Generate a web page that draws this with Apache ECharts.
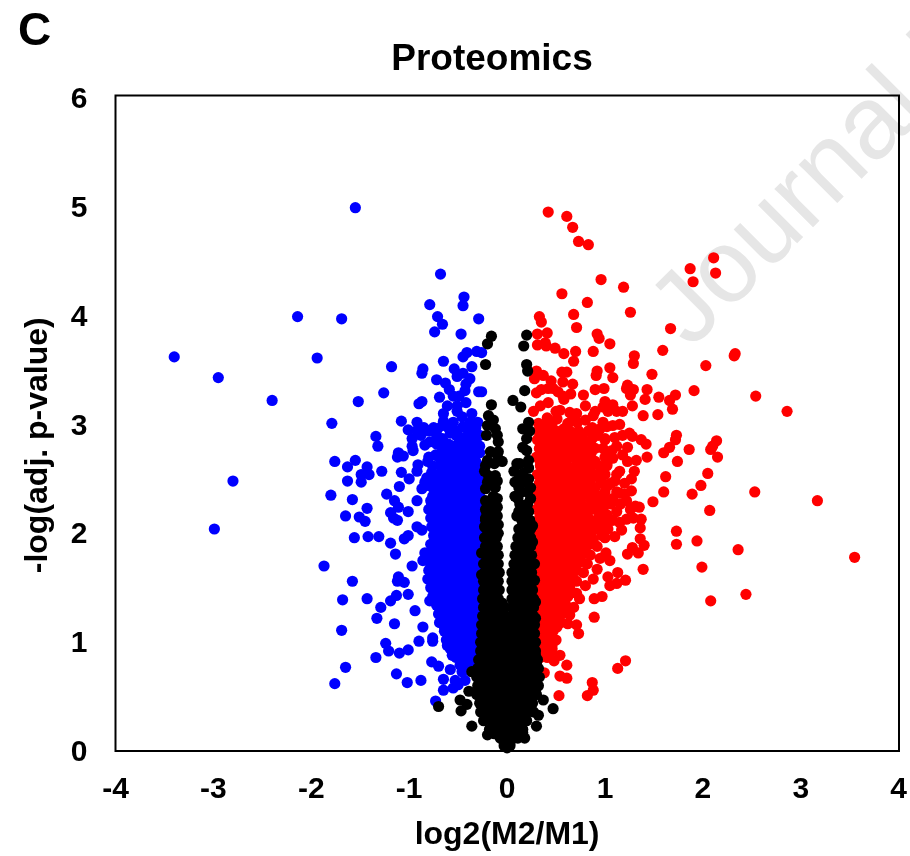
<!DOCTYPE html>
<html><head><meta charset="utf-8">
<style>html,body{margin:0;padding:0;background:#fff}#c{width:910px;height:856px}</style>
<script src="https://cdn.jsdelivr.net/npm/echarts@6/dist/echarts.min.js"></script>
</head><body><div id="c"></div>
<script>
var xTicks=[-4,-3,-2,-1,0,1,2,3,4];
var yTicks=[0,1,2,3,4,5,6];
var titleText="Proteomics", panelLetter="C", xName="log2(M2/M1)", yName="-log(adj. p-value)";

var blueEdge=[[-1.55,4.97],[-2.14,3.97],[-1.69,3.95],[-3.40,3.60],[-1.94,3.59],[-1.18,3.51],[-2.95,3.41],[-1.26,3.27],[-2.40,3.20],[-1.52,3.19],[-1.79,2.99],[-1.08,3.01],[-1.01,2.93],[-1.34,2.87],[-1.32,2.78],[-1.11,2.72],[-1.06,2.69],[-1.12,2.68],[-1.76,2.64],[-1.55,2.65],[-1.63,2.59],[-1.43,2.59],[-1.49,2.52],[-1.41,2.52],[-1.28,2.55],[-1.08,2.54],[-2.80,2.46],[-1.63,2.46],[-1.49,2.45],[-1.10,2.41],[-1.00,2.48],
[-1.80,2.33],[-1.58,2.29],[-1.23,2.34],[-1.15,2.28],[-1.43,2.21],[-1.11,2.22],[-1.01,2.18],[-1.19,2.17],[-1.65,2.14],[-1.51,2.13],[-1.45,2.09],[-1.16,2.12],[-1.12,2.10],[-2.99,2.02],[-1.56,1.94],[-1.42,1.95],[-1.31,1.95],[-1.19,1.89],[-1.05,1.93],[-1.01,1.96],[-1.14,1.79],[-1.87,1.68],[-0.97,1.68],[-1.11,1.58],[-1.12,1.54],[-1.05,1.53],[-1.58,1.54],[-1.68,1.37],[-1.43,1.38],[-1.13,1.41],[-1.01,1.42],[-1.19,1.36],[-1.29,1.30],[-1.33,1.20],[-1.15,1.15],[-1.69,1.09],[-1.24,0.97],[-1.21,0.90],[-1.10,0.88],[-1.01,0.91],[-1.34,0.84],[-1.65,0.75],[-1.13,0.69],[-1.02,0.61],[-1.76,0.60],
[-0.68,4.36],[-0.44,4.15],[-0.45,4.07],[-0.79,4.08],[-0.71,3.97],[-0.66,3.90],[-0.29,3.95],[-0.74,3.83],[-0.47,3.81],[-0.41,3.64],[-0.45,3.60],[-0.31,3.65],[-0.26,3.64],[-0.65,3.56],[-0.36,3.51],[-0.54,3.49],[-0.86,3.49],[-0.87,3.45],[-0.45,3.45],[-0.51,3.42],[-0.38,3.40],[-0.72,3.39],[-0.63,3.36],[-0.42,3.35],[-0.59,3.30],[-0.43,3.29],[-0.29,3.28],[-0.26,3.28],[-0.55,3.24],[-0.49,3.24],[-0.69,3.23],[-0.87,3.19],[-0.90,3.17],[-0.61,3.15],[-0.51,3.15],[-0.51,3.10],[-0.65,3.08],[-0.36,3.08],[-0.92,3.00],[-0.65,3.01],[-0.46,3.05],[-0.55,3.00],[-0.30,3.00],[-0.38,3.00],[-0.92,2.92],[-0.80,2.92],[-0.66,2.97],[-0.71,2.94],[-0.51,2.92],[-0.38,2.91],[-0.45,2.96],[-0.97,2.85],[-0.97,2.78],[-0.79,2.82],[-0.84,2.79],[-0.66,2.85],[-0.66,2.78],[-0.32,2.83],[-0.96,2.74],[-0.73,2.70],[-0.81,2.64],[-0.91,2.61],[-0.77,2.54],[-0.92,2.55],[-0.87,2.39],[-0.82,2.42],[-0.92,2.28],[-0.71,2.46],
[-0.92,2.04],[-0.87,2.01],[-0.84,1.80],[-0.86,1.73],[-0.79,1.36],[-0.94,1.27],[-0.86,1.12],[-0.90,0.99],[-0.76,1.02],[-0.76,0.99],[-0.77,0.80],[-0.70,0.76],[-0.58,0.73],[-0.88,0.63],[-0.65,0.64],[-0.65,0.54],[-0.55,0.56],[-0.50,0.59],[-0.53,0.63],[-0.73,0.44],[-0.48,0.77],[-0.46,0.71],[-0.43,0.63],[-0.61,0.95],[-0.56,0.86],[-0.50,0.86],
[-0.58,2.90],[-0.44,2.86],[-0.56,2.78],[-0.50,2.80],[-0.40,2.78],[-0.34,2.72],[-0.60,2.72],[-0.42,3.18],[-0.37,2.96],
[-0.85,2.95],[-0.75,2.95],[-0.60,2.95],[-0.42,2.95],[-0.32,2.95],[-0.88,2.88],[-0.72,2.88],[-0.52,2.88],[-0.36,2.88],[-0.28,2.88],[-0.72,2.80],[-0.60,2.80],[-0.48,2.82],[-0.36,2.80],[-0.28,2.78],[-0.66,2.74],[-0.54,2.73],[-0.46,2.74],[-0.38,2.73],[-0.28,2.72],[-0.80,2.68],[-0.70,2.68],[-0.76,2.60],[-0.78,2.50],[-0.82,2.49],[-0.84,2.45]];

var blueRowY=[2.68,2.60,2.52,2.44,2.36,2.28,2.20,2.12,2.04,1.96,1.88,1.80,1.72,1.64,1.56,1.48,1.40,1.32,1.24,1.16,1.08,1.00,0.92,0.84,0.76,
 2.64,2.56,2.48,2.40,2.32,2.24,2.16,2.08,2.00,1.92,1.84,1.76,1.68,1.60,1.52,1.44,1.36,1.28,1.20,1.12,1.04,0.96,0.88,0.80,0.72];
var blueRowX=[
[-0.62,-0.50,-0.43,-0.35],
[-0.68,-0.58,-0.52,-0.44,-0.36,-0.28],
[-0.70,-0.62,-0.54,-0.46,-0.38,-0.30],
[-0.78,-0.67,-0.59,-0.51,-0.43,-0.35,-0.27],
[-0.74,-0.66,-0.56,-0.48,-0.40,-0.32],
[-0.78,-0.70,-0.62,-0.54,-0.46,-0.38,-0.30],
[-0.80,-0.72,-0.64,-0.56,-0.48,-0.40,-0.32],
[-0.78,-0.70,-0.62,-0.54,-0.46,-0.38,-0.30],
[-0.77,-0.72,-0.64,-0.56,-0.48,-0.40,-0.32],
[-0.75,-0.68,-0.60,-0.52,-0.44,-0.36,-0.28],
[-0.78,-0.72,-0.64,-0.56,-0.48,-0.40,-0.32],
[-0.80,-0.70,-0.62,-0.54,-0.46,-0.38,-0.30],
[-0.76,-0.68,-0.60,-0.52,-0.44,-0.36,-0.28],
[-0.80,-0.72,-0.64,-0.56,-0.48,-0.40,-0.32],
[-0.81,-0.74,-0.66,-0.58,-0.50,-0.42,-0.34],
[-0.78,-0.70,-0.62,-0.54,-0.46,-0.38,-0.30],
[-0.76,-0.68,-0.60,-0.52,-0.44,-0.36,-0.28],
[-0.72,-0.64,-0.56,-0.48,-0.40,-0.32],
[-0.70,-0.62,-0.54,-0.46,-0.38,-0.30],
[-0.69,-0.60,-0.52,-0.44,-0.36,-0.28],
[-0.64,-0.56,-0.48,-0.40,-0.32],
[-0.62,-0.52,-0.44,-0.36,-0.30],
[-0.58,-0.49,-0.42,-0.34],
[-0.52,-0.44,-0.36,-0.30],
[-0.42,-0.35,-0.29],
[-0.64,-0.56,-0.48,-0.40,-0.32],
[-0.66,-0.58,-0.50,-0.42,-0.34,-0.26],
[-0.74,-0.66,-0.58,-0.50,-0.42,-0.34,-0.28],
[-0.76,-0.70,-0.62,-0.54,-0.46,-0.38,-0.30],
[-0.76,-0.68,-0.60,-0.52,-0.44,-0.36,-0.28],
[-0.77,-0.68,-0.60,-0.52,-0.44,-0.36,-0.28],
[-0.76,-0.66,-0.58,-0.50,-0.42,-0.34,-0.27],
[-0.74,-0.66,-0.58,-0.50,-0.42,-0.34,-0.28],
[-0.72,-0.64,-0.56,-0.48,-0.40,-0.32,-0.26],
[-0.74,-0.66,-0.58,-0.50,-0.42,-0.34,-0.27],
[-0.76,-0.66,-0.58,-0.50,-0.42,-0.34,-0.27],
[-0.78,-0.72,-0.64,-0.56,-0.48,-0.40,-0.32],
[-0.78,-0.70,-0.62,-0.54,-0.46,-0.38,-0.30],
[-0.77,-0.68,-0.60,-0.52,-0.44,-0.36,-0.28],
[-0.74,-0.66,-0.58,-0.50,-0.42,-0.34,-0.27],
[-0.72,-0.64,-0.56,-0.48,-0.40,-0.32,-0.26],
[-0.70,-0.60,-0.52,-0.44,-0.36,-0.28],
[-0.68,-0.60,-0.52,-0.44,-0.36,-0.28],
[-0.66,-0.58,-0.50,-0.42,-0.34,-0.27],
[-0.64,-0.56,-0.48,-0.40,-0.32,-0.26],
[-0.60,-0.52,-0.44,-0.36,-0.28],
[-0.54,-0.46,-0.38,-0.30],
[-0.50,-0.42,-0.34,-0.27],
[-0.46,-0.38,-0.30],
[-0.38,-0.31]];

var redEdge=[[0.42,4.93],[0.61,4.89],[0.67,4.79],[0.73,4.66],[0.83,4.63],[2.11,4.51],[1.87,4.41],[2.13,4.37],[1.90,4.29],[0.96,4.31],[1.19,4.24],[0.56,4.18],[0.82,4.10],[1.26,4.01],[0.68,3.99],[0.33,3.97],[0.35,3.92],[0.71,3.87],[1.67,3.86],[0.31,3.81],[0.41,3.82],[0.92,3.81],[0.94,3.77],[0.31,3.71],[0.39,3.73],[0.40,3.70],[0.49,3.68],[1.05,3.72],[0.58,3.63],[0.70,3.65],[0.88,3.65],[1.59,3.66],[1.30,3.61],[1.29,3.54],[0.68,3.56],[2.03,3.52],[1.05,3.50],[0.92,3.47],[0.91,3.43],[1.48,3.44],[0.30,3.47],[0.28,3.40],[0.37,3.43],[0.56,3.46],[0.61,3.46],[1.08,3.41],[0.45,3.38],[0.57,3.37],[0.67,3.35],[1.23,3.34],[1.22,3.31],[1.29,3.30],[1.26,3.25],[1.43,3.30],[0.99,3.31],[0.90,3.30],[0.35,3.30],[0.30,3.27],[0.42,3.31],[0.47,3.31],[0.52,3.28],[0.57,3.24],[0.65,3.26],[0.58,3.21],[0.78,3.25],[1.91,3.29],[1.41,3.21],[1.55,3.23],[1.72,3.25],[1.66,3.20],[1.69,3.12],[1.00,3.19],[1.28,3.15],[1.08,3.16],[0.98,3.14],[0.34,3.15],[0.27,3.10],[0.54,3.11],[0.71,3.08],[0.64,3.09],[0.88,3.06],[1.39,3.06],[1.54,3.07],[1.18,3.10],[1.03,3.10],[1.12,3.10],[0.51,3.03],[0.41,3.04],[0.32,2.99],[0.37,2.97],[0.66,3.01],[1.15,2.98],[1.08,2.97],[0.98,3.00],[0.87,2.95],[0.58,2.94],[0.73,2.92],[0.74,2.88],[0.95,2.94],[1.02,2.96],[0.93,2.88],[1.10,2.86],[0.87,2.85],[1.28,2.87],[1.37,2.84],[1.42,2.80],[1.73,2.88],[1.72,2.84],[2.14,2.83],[2.10,2.78],
[1.23,2.77],[1.43,2.68],[1.60,2.72],[1.66,2.77],[1.86,2.75],[2.08,2.75],[2.15,2.68],[1.74,2.64],[1.23,2.64],[1.07,2.74],[1.08,2.67],[2.05,2.53],[1.62,2.50],[1.98,2.42],[1.89,2.34],[1.60,2.36],[1.27,2.48],[1.49,2.27],[1.20,2.34],[1.27,2.37],[2.07,2.19],[1.31,2.23],[1.35,2.22],[1.26,2.20],[1.08,2.30],[1.12,2.18],[1.02,2.15],[1.22,2.11],[1.37,2.11],[1.29,2.12],[1.36,2.03],[1.17,2.01],[1.03,2.02],[1.73,2.00],[1.94,1.91],[1.73,1.88],[1.36,1.93],[1.40,1.87],[1.28,1.85],[1.23,1.79],[1.34,1.80],[0.97,1.96],[0.92,1.86],[1.01,1.80],[1.05,1.73],[1.39,1.65],[1.99,1.67],[0.92,1.65],[1.13,1.62],[1.03,1.58],[0.88,1.56],[1.21,1.55],[1.12,1.52],[1.05,1.50],[0.71,1.54],[0.71,1.43],[0.97,1.40],[0.89,1.38],[2.08,1.36],[0.89,1.21],[0.71,1.14],[0.73,1.06],[0.64,1.23],[1.21,0.81],[1.13,0.74],[0.61,0.77],[0.54,0.86],[0.48,0.81],[0.38,0.70],[0.54,0.67],[0.61,0.65],[0.87,0.61],[0.88,0.54],[0.82,0.49],[0.53,0.49],[3.55,1.76],[3.17,2.28],[2.86,3.10],[2.54,3.24],[2.33,3.63],[2.32,3.61],[2.53,2.36],[2.36,1.83],[2.44,1.42],
[1.00,2.85],[1.12,2.78],[1.18,2.70],[1.02,2.62],[1.15,2.55],[1.10,2.46],[1.20,2.44],[1.03,2.42],[1.15,2.35],[1.06,2.25],[1.16,2.25],[1.22,2.28],[0.98,2.20],[1.08,2.10],[1.15,2.08],[1.00,2.08],[0.92,2.02],[1.00,1.94],[1.10,1.95],[0.88,1.92],[0.85,1.78],[0.82,1.70],[0.78,1.62],[0.95,1.75],[0.80,1.50],[0.74,1.38],[0.68,1.30],[0.62,1.15],[1.30,2.55],[1.32,2.65],[1.25,2.90],[1.18,2.88],[0.90,3.10],[0.80,3.02],[0.72,3.00],[0.62,2.99],[0.46,2.99],[0.50,3.10],[0.42,3.18],[0.80,3.15]];

var redRowY=[2.92,2.84,2.76,2.68,2.60,2.52,2.44,2.36,2.28,2.20,2.12,2.04,1.96,1.88,1.80,1.72,1.64,1.56,1.48,1.40,1.32,1.24,1.16,1.08,1.00,0.92,0.84,
 2.88,2.80,2.72,2.64,2.56,2.48,2.40,2.32,2.24,2.16,2.08,2.00,1.92,1.84,1.76,1.68,1.60,1.52,1.44,1.36,1.28,1.20,1.12,1.04,0.96,0.88];
var redRowX=[
[0.32,0.42,0.50,0.64,0.83],
[0.31,0.40,0.47,0.56,0.68,0.78,1.00],
[0.33,0.42,0.52,0.60,0.70,0.80,0.90,0.98],
[0.30,0.38,0.46,0.56,0.66,0.74,0.82,1.00],
[0.34,0.42,0.52,0.60,0.70,0.78,0.86,0.94,1.02],
[0.31,0.39,0.47,0.55,0.63,0.72,0.80,0.92,1.00,1.12],
[0.33,0.41,0.49,0.58,0.66,0.76,0.84,0.96,1.06],
[0.30,0.38,0.46,0.54,0.62,0.70,0.80,0.88,1.00,1.12],
[0.32,0.41,0.50,0.57,0.66,0.75,0.86,0.95,1.03],
[0.30,0.38,0.46,0.54,0.62,0.70,0.78,0.90,0.97],
[0.33,0.41,0.49,0.57,0.65,0.73,0.83,0.93],
[0.30,0.38,0.46,0.54,0.62,0.70,0.79,0.88,0.95],
[0.32,0.40,0.48,0.56,0.64,0.72,0.80,0.86],
[0.30,0.38,0.46,0.54,0.62,0.70,0.78,0.84],
[0.33,0.41,0.49,0.57,0.65,0.73,0.80],
[0.31,0.39,0.47,0.55,0.63,0.71,0.76],
[0.33,0.41,0.49,0.57,0.65,0.71],
[0.31,0.39,0.47,0.55,0.63,0.68],
[0.33,0.41,0.49,0.57,0.64],
[0.32,0.40,0.48,0.56,0.62],
[0.31,0.39,0.47,0.55,0.60],
[0.33,0.41,0.49,0.56],
[0.33,0.41,0.48,0.55],
[0.33,0.40,0.47],
[0.34,0.42,0.50],
[0.33,0.40,0.46],
[0.34,0.41],
[0.36,0.44,0.52,0.60,0.70],
[0.36,0.44,0.52,0.62,0.72,0.84],
[0.36,0.44,0.54,0.64,0.76,0.86],
[0.34,0.42,0.50,0.60,0.72,0.80,0.90],
[0.36,0.46,0.56,0.66,0.74,0.84,0.98],
[0.35,0.43,0.51,0.59,0.68,0.76,0.86,0.96],
[0.36,0.45,0.54,0.62,0.72,0.80,0.90],
[0.34,0.42,0.50,0.58,0.66,0.74,0.84,0.94],
[0.36,0.44,0.52,0.60,0.68,0.76,0.86],
[0.34,0.42,0.50,0.58,0.66,0.74,0.82],
[0.36,0.44,0.52,0.60,0.68,0.76,0.84],
[0.34,0.42,0.50,0.58,0.66,0.74,0.82],
[0.36,0.44,0.52,0.60,0.68,0.76],
[0.34,0.42,0.50,0.58,0.66,0.74,0.80],
[0.37,0.45,0.53,0.61,0.69],
[0.35,0.43,0.51,0.59,0.67],
[0.35,0.43,0.51,0.59,0.66],
[0.37,0.45,0.53,0.61],
[0.37,0.45,0.53,0.60],
[0.36,0.44,0.52,0.59],
[0.35,0.43,0.51,0.58],
[0.37,0.45,0.52],
[0.37,0.44,0.51],
[0.36,0.43],
[0.38,0.46],
[0.37,0.44]];

var blackEdge=[[-0.16,3.79],[-0.20,3.72],[-0.22,3.53],[-0.16,3.16],[-0.19,3.06],[-0.14,3.02],[-0.20,2.97],[-0.12,2.94],[-0.21,2.88],[-0.09,2.82],[-0.10,2.88],[-0.17,2.73],[-0.09,2.73],[-0.20,2.65],[-0.05,2.64],[-0.23,2.55],[-0.12,2.51],[-0.19,2.51],[-0.17,2.44],[-0.22,2.39],[-0.14,2.32],[-0.22,2.28],[-0.15,2.24],
[0.20,3.80],[0.17,3.70],[0.20,3.53],[0.21,3.47],[0.18,3.29],[0.06,3.20],[0.14,3.14],[0.22,3.00],[0.16,2.94],[0.23,2.92],[0.20,2.85],[0.16,2.77],[0.20,2.74],[0.22,2.65],[0.10,2.62],[0.07,2.55],[0.16,2.53],[0.08,2.45],[0.18,2.45],[0.21,2.36],[0.08,2.32],[0.15,2.36],[0.13,2.25],[0.21,2.25],
[-0.70,0.39],[-0.48,0.45],[-0.41,0.41],[-0.47,0.35],[-0.39,0.53],[0.47,0.37],[0.37,0.45],[0.32,0.31],[0.30,0.21],[0.17,0.25],[-0.36,0.71],[-0.36,0.21],[0.18,0.10],[0.16,0.15],[-0.20,0.13],[-0.03,0.03],[0.03,0.03],[0.00,0.01],
[-0.10,2.70],[-0.13,2.62],[-0.22,2.60],[-0.10,2.46],[-0.12,2.40],[-0.20,2.45],[-0.10,2.30],[-0.10,2.22],[-0.10,2.14],[-0.09,2.06],[-0.22,2.20],[-0.22,2.12],[-0.23,2.04],[-0.09,1.98],[0.22,2.58],[0.13,2.62],[0.12,2.48],[0.12,2.40],[0.22,2.48],[0.12,2.18],[0.22,2.18],[0.23,2.10],[0.24,2.30],[0.11,2.30],[0.24,2.40],[0.26,2.05],[0.26,1.90],[0.28,1.70],[0.28,1.55],[0.29,1.35],[0.29,1.20],[-0.26,1.80],[-0.26,1.60]];

var blackRowY=[2.18,2.10,2.02,1.94,1.86,1.78,1.70,1.62,1.54,1.46,1.38,1.30,1.22,1.14,1.06,0.98,0.90,0.82,0.74,0.66,0.58,0.50,0.42,0.34,0.26,0.18,0.10,
 2.14,2.06,1.98,1.90,1.82,1.74,1.66,1.58,1.50,1.42,1.34,1.26,1.18,1.10,1.02,0.94,0.86,0.78,0.70,0.62,0.54,0.46,0.38,0.30,0.22,0.14,0.06];
var blackRowX=[
[-0.21,-0.14,0.13,0.21],
[-0.22,-0.15,0.15,0.23],
[-0.21,-0.13,0.12,0.19,0.24],
[-0.23,-0.16,-0.11,0.11,0.18,0.24],
[-0.22,-0.15,-0.10,0.09,0.16,0.24],
[-0.22,-0.15,-0.09,0.08,0.16,0.25],
[-0.24,-0.17,-0.09,0.07,0.15,0.24],
[-0.23,-0.16,-0.08,0.05,0.13,0.21,0.25],
[-0.24,-0.17,-0.09,0.05,0.13,0.21,0.26],
[-0.24,-0.16,-0.08,0.05,0.13,0.21,0.26],
[-0.25,-0.17,-0.09,0.05,0.13,0.21,0.27],
[-0.24,-0.16,-0.08,-0.02,0.05,0.13,0.21,0.27],
[-0.25,-0.17,-0.09,-0.02,0.05,0.13,0.21,0.27],
[-0.26,-0.18,-0.10,-0.02,0.05,0.13,0.21,0.28],
[-0.26,-0.18,-0.10,-0.02,0.05,0.13,0.21,0.28],
[-0.27,-0.19,-0.11,-0.03,0.05,0.13,0.21,0.29],
[-0.27,-0.19,-0.11,-0.03,0.05,0.13,0.21,0.29],
[-0.29,-0.21,-0.13,-0.05,0.03,0.11,0.19,0.27,0.31],
[-0.30,-0.22,-0.14,-0.06,0.02,0.10,0.18,0.26,0.32],
[-0.31,-0.23,-0.15,-0.07,0.01,0.09,0.17,0.25,0.33],
[-0.30,-0.22,-0.14,-0.06,0.02,0.10,0.18,0.26,0.32],
[-0.31,-0.23,-0.15,-0.07,0.01,0.09,0.17,0.25,0.30],
[-0.28,-0.20,-0.12,-0.04,0.04,0.12,0.20,0.26],
[-0.27,-0.19,-0.11,-0.03,0.05,0.13,0.21,0.27],
[-0.24,-0.16,-0.08,0.00,0.08,0.14,0.20],
[-0.18,-0.11,-0.04,0.04,0.11,0.16],
[-0.07,-0.01,0.06,0.11],
[-0.18,-0.12,0.10,0.18],
[-0.18,-0.12,0.16,0.22],
[-0.18,-0.12,0.15,0.22],
[-0.19,-0.13,0.14,0.21],
[-0.19,-0.12,0.12,0.20],
[-0.19,-0.12,0.11,0.19],
[-0.20,-0.13,0.09,0.17,0.23],
[-0.20,-0.12,0.09,0.17,0.23],
[-0.20,-0.12,0.09,0.17,0.23],
[-0.21,-0.13,0.09,0.17,0.24],
[-0.21,-0.13,-0.05,0.09,0.17,0.24],
[-0.20,-0.12,-0.05,0.09,0.17,0.24],
[-0.21,-0.13,-0.06,0.01,0.09,0.17,0.24],
[-0.22,-0.14,-0.06,0.01,0.09,0.17,0.25],
[-0.23,-0.15,-0.07,0.01,0.09,0.17,0.25],
[-0.23,-0.15,-0.07,0.01,0.09,0.17,0.25],
[-0.25,-0.17,-0.09,-0.01,0.07,0.15,0.23,0.29],
[-0.26,-0.18,-0.10,-0.02,0.06,0.14,0.22,0.30],
[-0.27,-0.19,-0.11,-0.03,0.05,0.13,0.21,0.29],
[-0.27,-0.19,-0.11,-0.03,0.05,0.13,0.21,0.29],
[-0.27,-0.19,-0.11,-0.03,0.05,0.13,0.21,0.29],
[-0.24,-0.16,-0.08,0.00,0.08,0.16,0.24],
[-0.24,-0.16,-0.08,0.00,0.08,0.16,0.24],
[-0.20,-0.12,-0.04,0.04,0.12,0.18],
[-0.14,-0.07,0.00,0.08,0.13],
[-0.13,-0.04,0.04,0.10],
[-0.03,0.03]];

function expand(ys,xs){var out=[];ys.forEach(function(y,i){xs[i].forEach(function(x){out.push([x,y]);});});return out;}
var blue=blueEdge.concat(expand(blueRowY,blueRowX));
var red=redEdge.concat(expand(redRowY,redRowX));
var black=blackEdge.concat(expand(blackRowY,blackRowX));

var F="'Liberation Sans',Arial,sans-serif";
var chart=echarts.init(document.getElementById('c'),null,{renderer:'canvas'});
function dots(name,data,color){return {name:name,type:'scatter',data:data,symbolSize:11.2,clip:false,itemStyle:{color:color,opacity:1},silent:true,animation:false};}
chart.setOption({
 animation:false,backgroundColor:'#fff',
 title:[
  {text:titleText,left:487,top:36,textAlign:'center',textStyle:{fontFamily:F,fontWeight:'bold',fontSize:37,color:'#000'}},
  {text:panelLetter,left:13,top:4,textStyle:{fontFamily:F,fontWeight:'bold',fontSize:46,color:'#000'}}
 ],
 grid:{left:115.5,top:95.5,right:11,bottom:105,containLabel:false,show:false},
 xAxis:{type:'value',min:-4,max:4,interval:1,name:xName,nameLocation:'middle',nameGap:70,
  nameTextStyle:{fontFamily:F,fontWeight:'bold',fontSize:32,color:'#000'},
  axisLine:{show:false},axisTick:{show:false},splitLine:{show:false},
  axisLabel:{fontFamily:F,fontWeight:'bold',fontSize:30,color:'#000',margin:26}},
 yAxis:{type:'value',min:0,max:6,interval:1,name:yName,nameLocation:'middle',nameGap:61,
  nameTextStyle:{fontFamily:F,fontWeight:'bold',fontSize:32,color:'#000',padding:[0,46,0,0]},
  axisLine:{show:false},axisTick:{show:false},splitLine:{show:false},
  axisLabel:{fontFamily:F,fontWeight:'bold',fontSize:30,color:'#000',margin:28,verticalAlign:'top',lineHeight:8}},
 graphic:[
  {type:'text',z:-10,silent:true,x:707,y:366,rotation:Math.PI/4,
   style:{text:'Journal Pre-proof',fontFamily:"'Liberation Sans',Arial,sans-serif",fontSize:103,fill:'#e6e6e6',textAlign:'left',textVerticalAlign:'bottom'}},
  {type:'rect',z:1,silent:true,shape:{x:115.5,y:95.5,width:783.5,height:655.5},style:{fill:'none',stroke:'#000',lineWidth:2}}
 ],
 series:[dots('M2<M1',blue,'#0000ff'),dots('M2>M1',red,'#ff0000'),dots('n.s.',black,'#000000')]
});
</script></body></html>
